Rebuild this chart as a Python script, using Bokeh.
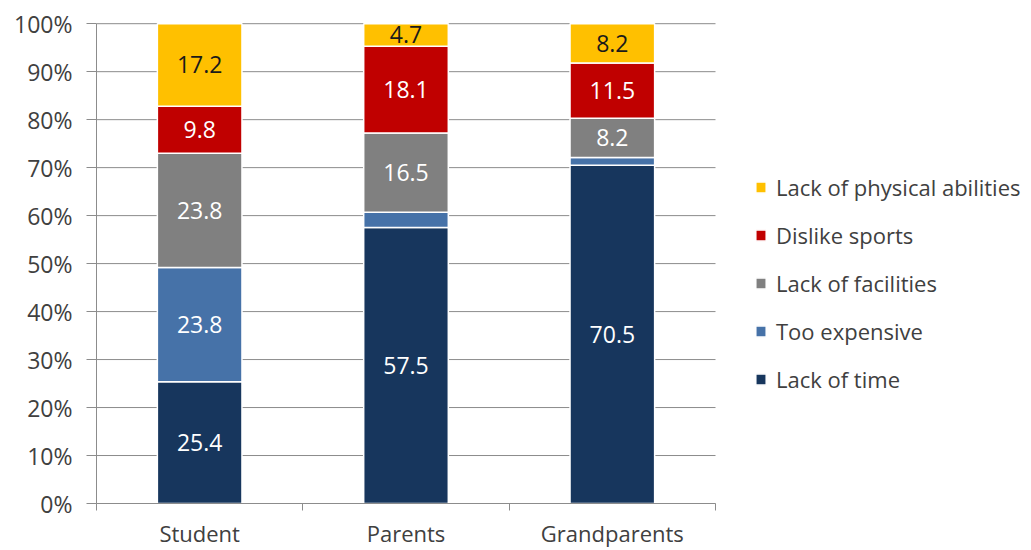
from bokeh.plotting import figure
from bokeh.models import (ColumnDataSource, FixedTicker, Legend, LegendItem,
                          CustomJSTickFormatter, Range1d)
from bokeh.core.properties import value
from bokeh.embed import file_html
from bokeh.resources import INLINE

# Reasons for not doing sport, by generation (% of respondents)
groups = ["Student", "Parents", "Grandparents"]
reasons = ["Lack of time", "Too expensive", "Lack of facilities",
           "Dislike sports", "Lack of physical abilities"]
lack_of_time = [25.4, 57.5, 70.5]
too_expensive = [23.8, 3.2, 1.6]
lack_of_facilities = [23.8, 16.5, 8.2]
dislike_sports = [9.8, 18.1, 11.5]
lack_of_abilities = [17.2, 4.7, 8.2]
y_ticks = [0, 10, 20, 30, 40, 50, 60, 70, 80, 90, 100]

colors = ["#17365D", "#4672A8", "#808080", "#C00000", "#FFC000"]
label_colors = ["white", "white", "white", "white", "#1a1a1a"]
FONT = "Open Sans"
TEXT = "#404040"
GRID = "#8c8c8c"

W, H = 1031, 550
LEFT, BOTTOM, TOP = 96, 47, 22
PLOT_W = 619          # width used by the three groups; the rest holds the legend

series = [lack_of_time, too_expensive, lack_of_facilities, dislike_sports, lack_of_abilities]
keys = ["s%d" % i for i in range(len(series))]
n = len(groups)
xpos = [i + 0.5 for i in range(n)]

data = {"x": xpos}
for k, s in zip(keys, series):
    data[k] = s
source = ColumnDataSource(data)

x_end = n * (W - LEFT) / PLOT_W
p = figure(width=W, height=H, output_backend="svg", toolbar_location=None,
           x_range=Range1d(0, x_end), y_range=Range1d(0, 100.25),
           min_border_left=LEFT, min_border_right=0, min_border_top=TOP,
           min_border_bottom=BOTTOM)
p.outline_line_color = None
p.background_fill_color = "white"
p.xgrid.grid_line_color = None
p.ygrid.grid_line_color = None

# horizontal gridlines across the group area only
p.segment(x0=0, x1=n, y0=y_ticks, y1=y_ticks, line_color=GRID, line_width=1,
          level="underlay")

renderers = p.vbar_stack(keys, x="x", width=0.41, source=source, color=colors,
                         line_color="white", line_width=1.5)

# value labels at the middle of each segment
lx, ly, lt, lc = [], [], [], []
for gi in range(n):
    base = 0.0
    for si, s in enumerate(series):
        v = s[gi]
        if v >= 4:
            lx.append(xpos[gi])
            ly.append(base + v / 2)
            lt.append("%.1f" % v)
            lc.append(label_colors[si])
        base += v
lsrc = ColumnDataSource(dict(x=lx, y=ly, t=lt, c=lc))
p.text(x="x", y="y", text="t", source=lsrc, text_color="c",
       text_align="center", text_baseline="middle",
       text_font=value(FONT), text_font_size="23px")

# y axis
p.yaxis.ticker = FixedTicker(ticks=y_ticks)
p.yaxis.bounds = (0, 100)
p.yaxis.formatter = CustomJSTickFormatter(code="return tick.toFixed(0) + '%';")
p.yaxis.axis_line_color = GRID
p.yaxis.major_tick_line_color = GRID
p.yaxis.major_tick_out = 10
p.yaxis.major_tick_in = 0
p.yaxis.minor_tick_line_color = None
p.yaxis.major_label_standoff = 14
p.yaxis.major_label_text_font = FONT
p.yaxis.major_label_text_font_size = "23px"
p.yaxis.major_label_text_color = TEXT

# x axis: labels under bars, tick marks between groups
p.xaxis.ticker = FixedTicker(ticks=xpos, minor_ticks=list(range(n + 1)))
p.xaxis.bounds = (0, n)
p.xaxis.major_label_overrides = {x: g for x, g in zip(xpos, groups)}
p.xaxis.axis_line_color = GRID
p.xaxis.major_tick_line_color = None
p.xaxis.major_tick_out = 0
p.xaxis.major_tick_in = 0
p.xaxis.minor_tick_line_color = GRID
p.xaxis.minor_tick_out = 7
p.xaxis.minor_tick_in = 0
p.xaxis.major_label_standoff = 7
p.xaxis.major_label_text_font = FONT
p.xaxis.major_label_text_font_size = "22px"
p.xaxis.major_label_text_color = TEXT

items = [LegendItem(label=reasons[i], renderers=[renderers[i]])
         for i in reversed(range(len(reasons)))]
legend = Legend(items=items, location=(658, 109), orientation="vertical",
                glyph_width=13, glyph_height=14, label_height=26,
                spacing=18, label_standoff=9, padding=0, margin=0,
                border_line_alpha=0, background_fill_alpha=0,
                label_text_font=FONT, label_text_font_size="22px",
                label_text_color=TEXT)
p.add_layout(legend)

open("out.html", "w").write(file_html(p, INLINE))
